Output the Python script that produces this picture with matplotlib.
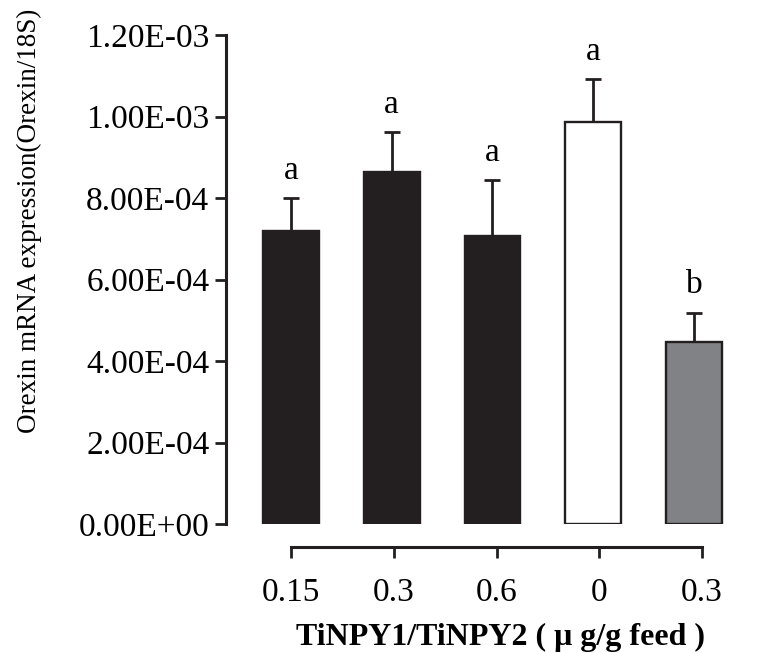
import matplotlib
matplotlib.use("Agg")
import matplotlib.pyplot as plt
import numpy as np

plt.rcParams['font.family'] = ['Liberation Serif', 'DejaVu Serif']

categories = ["0.15", "0.3", "0.6", "0", "0.3"]
means = [7.18e-4, 8.65e-4, 7.06e-4, 9.87e-4, 4.46e-4]
errors = [0.81e-4, 0.96e-4, 1.37e-4, 1.05e-4, 0.72e-4]
letters = ["a", "a", "a", "a", "b"]
bar_colors = ["#231f20", "#231f20", "#231f20", "#ffffff", "#808285"]
yticks = [0, 2e-4, 4e-4, 6e-4, 8e-4, 1.0e-3, 1.2e-3]
ytick_labels = ["0.00E+00", "2.00E-04", "4.00E-04", "6.00E-04", "8.00E-04", "1.00E-03", "1.20E-03"]
xlabel = "TiNPY1/TiNPY2 ( μ g/g feed )"
ylabel = "Orexin mRNA expression(Orexin/18S)"

W, H = 760, 653
fig = plt.figure(figsize=(W / 100, H / 100), dpi=100)
rect = [226 / W, 129 / H, (740 - 226) / W, (618 - 129) / H]
ax = fig.add_axes(rect)

x = np.arange(len(means))
ax.bar(x, means, width=0.555, color=bar_colors, edgecolor="#231f20", linewidth=1.7, zorder=2)
ax.errorbar(x, means, yerr=[np.zeros(len(errors)), errors], fmt="none",
            ecolor="#231f20", elinewidth=2.0, capsize=5.5, capthick=2.0, zorder=1)
for xi, m, e, l in zip(x, means, errors, letters):
    ax.annotate(l, (xi, m + e), xytext=(0, 9), textcoords="offset points",
                ha="center", va="bottom", fontsize=24, annotation_clip=False)

ax.set_ylim(0, 1.2e-3)
ax.set_xlim(-0.645, 4.457)
ax.set_yticks(yticks)
ax.set_yticklabels(ytick_labels, fontsize=24)
ax.tick_params(axis="y", direction="out", length=8, width=2, pad=4, colors="#231f20", labelcolor="black")
ax.set_xticks([])
for s in ["top", "right", "bottom"]:
    ax.spines[s].set_visible(False)
ax.spines["left"].set_linewidth(2.2)
ax.spines["left"].set_color("#231f20")
ax.patch.set_alpha(0)

# detached category axis
ax2 = fig.add_axes(rect)
ax2.patch.set_alpha(0)
ax2.set_xlim(-0.633, 4.370)
ax2.set_yticks([])
for s in ["top", "right", "left"]:
    ax2.spines[s].set_visible(False)
ax2.spines["bottom"].set_position(("outward", 16.5))
ax2.spines["bottom"].set_bounds(0, len(categories) - 1)
ax2.spines["bottom"].set_linewidth(2.2)
ax2.spines["bottom"].set_color("#231f20")
ax2.set_xticks(np.arange(len(categories)))
ax2.set_xticklabels(categories, fontsize=24)
ax2.tick_params(axis="x", direction="out", length=8, width=2, pad=14, colors="#231f20", labelcolor="black")

fig.text(501 / W, 16 / H, xlabel, ha="center", va="center", fontsize=23, fontweight="bold")
fig.text(29 / W, (H - 221) / H, ylabel, ha="center", va="center", rotation=90, fontsize=19.5)

fig.savefig("out.png", dpi=100)
